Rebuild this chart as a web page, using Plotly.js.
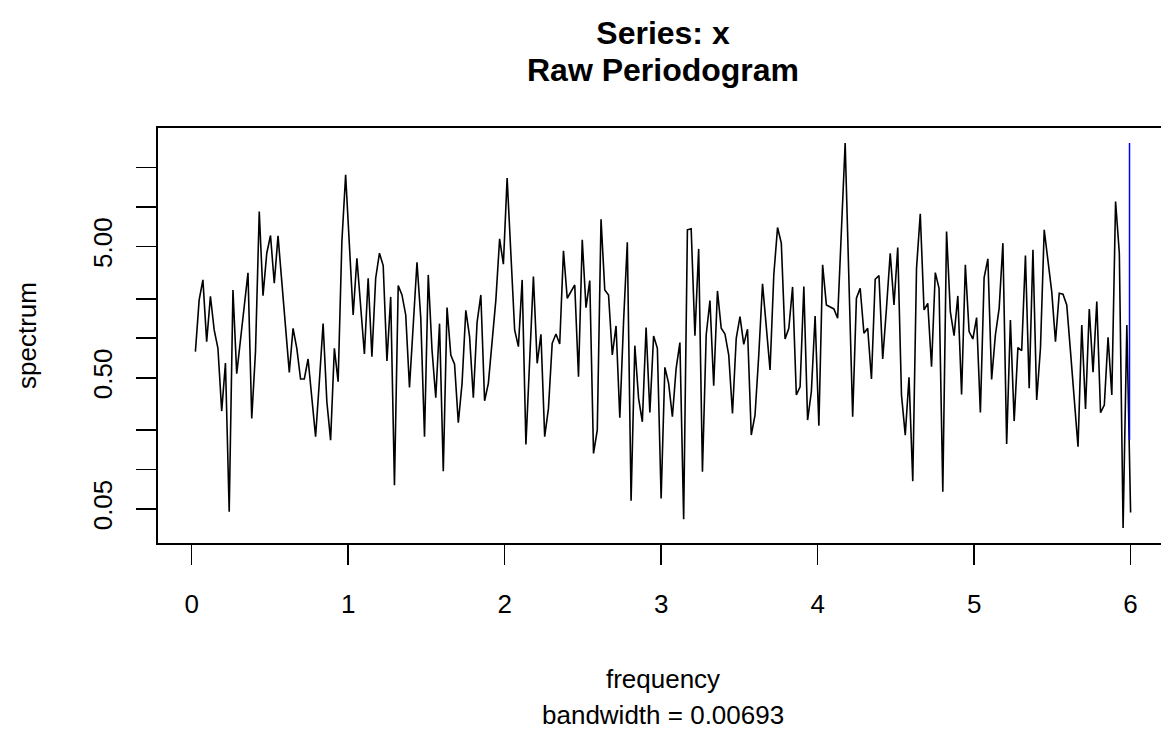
<!DOCTYPE html>
<html>
<head>
<meta charset="utf-8">
<script src="https://cdn.plot.ly/plotly-3.0.1.min.js"></script>
<style>
html,body{margin:0;padding:0;overflow:hidden;background:#fff;}
#plot{width:1180px;height:732px;}
</style>
</head>
<body>
<div id="plot"></div>
<script>
// Raw periodogram of a monthly series (xfreq = 12), padded length N = 500
const N = 500;
const xfreq = 12;

const spectrum = [
 0.790, 1.960, 2.785, 0.942, 2.090, 1.157, 0.838, 0.2785, 0.648, 0.0475,
 2.336, 0.537, 0.970, 1.743, 3.150, 0.245, 0.790, 9.26, 2.115, 4.450,
 6.07, 2.627, 6.03, 2.705, 1.233, 0.550, 1.191, 0.838, 0.489, 0.489,
 0.695, 0.348, 0.1774, 0.4664, 1.292, 0.328, 0.1673, 0.838, 0.466, 5.46,
 17.63, 5.15, 1.505, 4.076, 1.795, 0.758, 2.868, 0.724, 2.868, 4.450,
 3.583, 0.671, 2.066, 0.0758, 2.521, 2.139, 1.505, 0.422, 1.263, 3.799,
 1.436, 0.1774, 3.041, 0.814, 0.352, 1.292, 0.0970, 1.712, 0.745, 0.633,
 0.2269, 0.453, 1.634, 1.029, 0.352, 1.323, 2.139, 0.334, 0.453, 0.942,
 1.960, 5.725, 3.668, 16.63, 4.322, 1.157, 0.863, 2.785, 0.155, 0.663,
 2.953, 0.644, 1.072, 0.1774, 0.292, 0.915, 1.078, 0.904, 4.637, 2.018,
 2.269, 2.551, 0.509, 5.63, 1.712, 2.753, 0.1323, 0.1994, 8.09, 2.336,
 2.139, 0.745, 1.241, 0.2477, 1.339, 5.40, 0.0576, 0.878, 0.348, 0.2309,
 1.205, 0.272, 1.041, 0.838, 0.0600, 0.600, 0.453, 0.252, 0.590, 0.926,
 0.0417, 6.71, 6.83, 1.047, 4.80, 0.0959, 1.059, 1.937, 0.435, 2.296,
 1.191, 1.078, 0.745, 0.267, 0.999, 1.462, 0.899, 1.170, 0.1827, 0.2597,
 0.745, 2.596, 1.226, 0.573, 3.041, 6.99, 5.31, 0.987, 1.191, 2.463,
 0.369, 0.427, 2.477, 0.2377, 0.391, 1.479, 0.2153, 3.625, 1.795, 1.722,
 1.673, 1.420, 6.51, 30.8, 2.785, 0.252, 2.018, 2.406, 1.091, 1.191,
 0.489, 2.818, 3.006, 0.695, 1.692, 4.450, 1.795, 4.915, 0.369, 0.1827,
 0.503, 0.0814, 3.420, 8.88, 1.644, 1.848, 0.607, 3.168, 2.406, 0.0675,
 6.51, 1.596, 1.047, 2.102, 0.373, 3.625, 1.123, 0.987, 1.436, 0.272,
 2.901, 4.029, 0.486, 1.059, 1.692, 5.31, 0.156, 1.379, 0.2336, 0.848,
 0.804, 4.272, 0.415, 4.719, 0.338, 0.838, 6.71, 3.844, 2.269, 0.942,
 2.203, 2.165, 1.795, 0.790, 0.348, 0.1488, 1.263, 0.2884, 1.673, 0.550,
 1.903, 0.2704, 0.3094, 1.017, 0.369, 11.03, 4.450, 0.0358, 1.263, 0.0469
];

// Fourier frequencies k * xfreq / N, k = 1 .. N/2
const frequency = spectrum.map((_, i) => xfreq * (i + 1) / N);

const bandwidth = 0.00693;
// confidence-interval bar (blue)
const ciX = [6 - bandwidth, 6 - bandwidth];
const ciY = [0.1673, 30.8];
const ciTickX = [6 - 1.5 * bandwidth, 6 - 0.5 * bandwidth];
const ciTickY = [0.703, 0.703];

const yTickVals = [0.05, 0.1, 0.2, 0.5, 1, 2, 5, 10, 20];
const yTickText = ["0.05", "", "", "0.50", "", "", "5.00", "", ""];
const xTickVals = [0, 1, 2, 3, 4, 5, 6];

const titleLine1 = 'Series: x';
const titleLine2 = 'Raw Periodogram';
const subText = 'bandwidth = 0.00693';

const FONT = 'Liberation Sans, Arial, Helvetica, sans-serif';
const LBL = 26;
const TTL = 32;

const traces = [
  {x: frequency, y: spectrum, type: 'scatter', mode: 'lines',
   line: {color: '#000', width: 1.6}, hoverinfo: 'skip'},
  {x: ciX, y: ciY, type: 'scatter', mode: 'lines',
   line: {color: '#0000ff', width: 1.5}, hoverinfo: 'skip'},
  {x: ciTickX, y: ciTickY, type: 'scatter', mode: 'lines',
   line: {color: '#0000ff', width: 1.5}, hoverinfo: 'skip'}
];

const layout = {
  width: 1180, height: 732,
  margin: {l: 158, r: 12, t: 128, b: 189, pad: 0},
  paper_bgcolor: '#ffffff', plot_bgcolor: '#ffffff',
  font: {family: FONT, size: LBL, color: '#000'},
  showlegend: false,
  title: {
    text: titleLine1,
    font: {family: FONT, size: TTL, weight: 'bold', color: '#000'},
    x: 0.5, xref: 'paper', xanchor: 'center',
    y: 1 - 33 / 732, yref: 'container', yanchor: 'middle'
  },
  xaxis: {
    range: [-0.215, 6.239], tickvals: xTickVals,
    ticks: 'outside', ticklen: 20, tickwidth: 1.6, tickcolor: '#000',
    showgrid: false, zeroline: false,
    showline: true, mirror: true, linecolor: '#000', linewidth: 1.6,
    ticklabelstandoff: 17,
    tickfont: {family: FONT, size: LBL, color: '#000'},
    title: {text: 'frequency', standoff: 52, font: {family: FONT, size: LBL, color: '#000'}},
    automargin: false, fixedrange: true
  },
  yaxis: {
    type: 'log', range: [-1.561, 1.603],
    tickvals: yTickVals, ticktext: yTickText, tickangle: -90,
    ticks: 'outside', ticklen: 20, tickwidth: 1.6, tickcolor: '#000',
    showgrid: false, zeroline: false,
    showline: true, mirror: true, linecolor: '#000', linewidth: 1.6,
    ticklabelstandoff: 14,
    tickfont: {family: FONT, size: LBL, color: '#000'},
    title: {text: 'spectrum', standoff: 44, font: {family: FONT, size: LBL, color: '#000'}},
    automargin: false, fixedrange: true
  },
  annotations: [
    {text: titleLine2, xref: 'paper', yref: 'paper',
     x: 0.5, y: (543 - 70) / 415, xanchor: 'center', yanchor: 'middle',
     showarrow: false, font: {family: FONT, size: TTL, weight: 'bold', color: '#000'}},
    {text: subText, xref: 'paper', yref: 'paper',
     x: 0.5, y: -(715 - 543) / 415, xanchor: 'center', yanchor: 'middle',
     showarrow: false, font: {family: FONT, size: LBL, color: '#000'}}
  ]
};

Plotly.newPlot('plot', traces, layout, {displayModeBar: false, staticPlot: true});
</script>
</body>
</html>
